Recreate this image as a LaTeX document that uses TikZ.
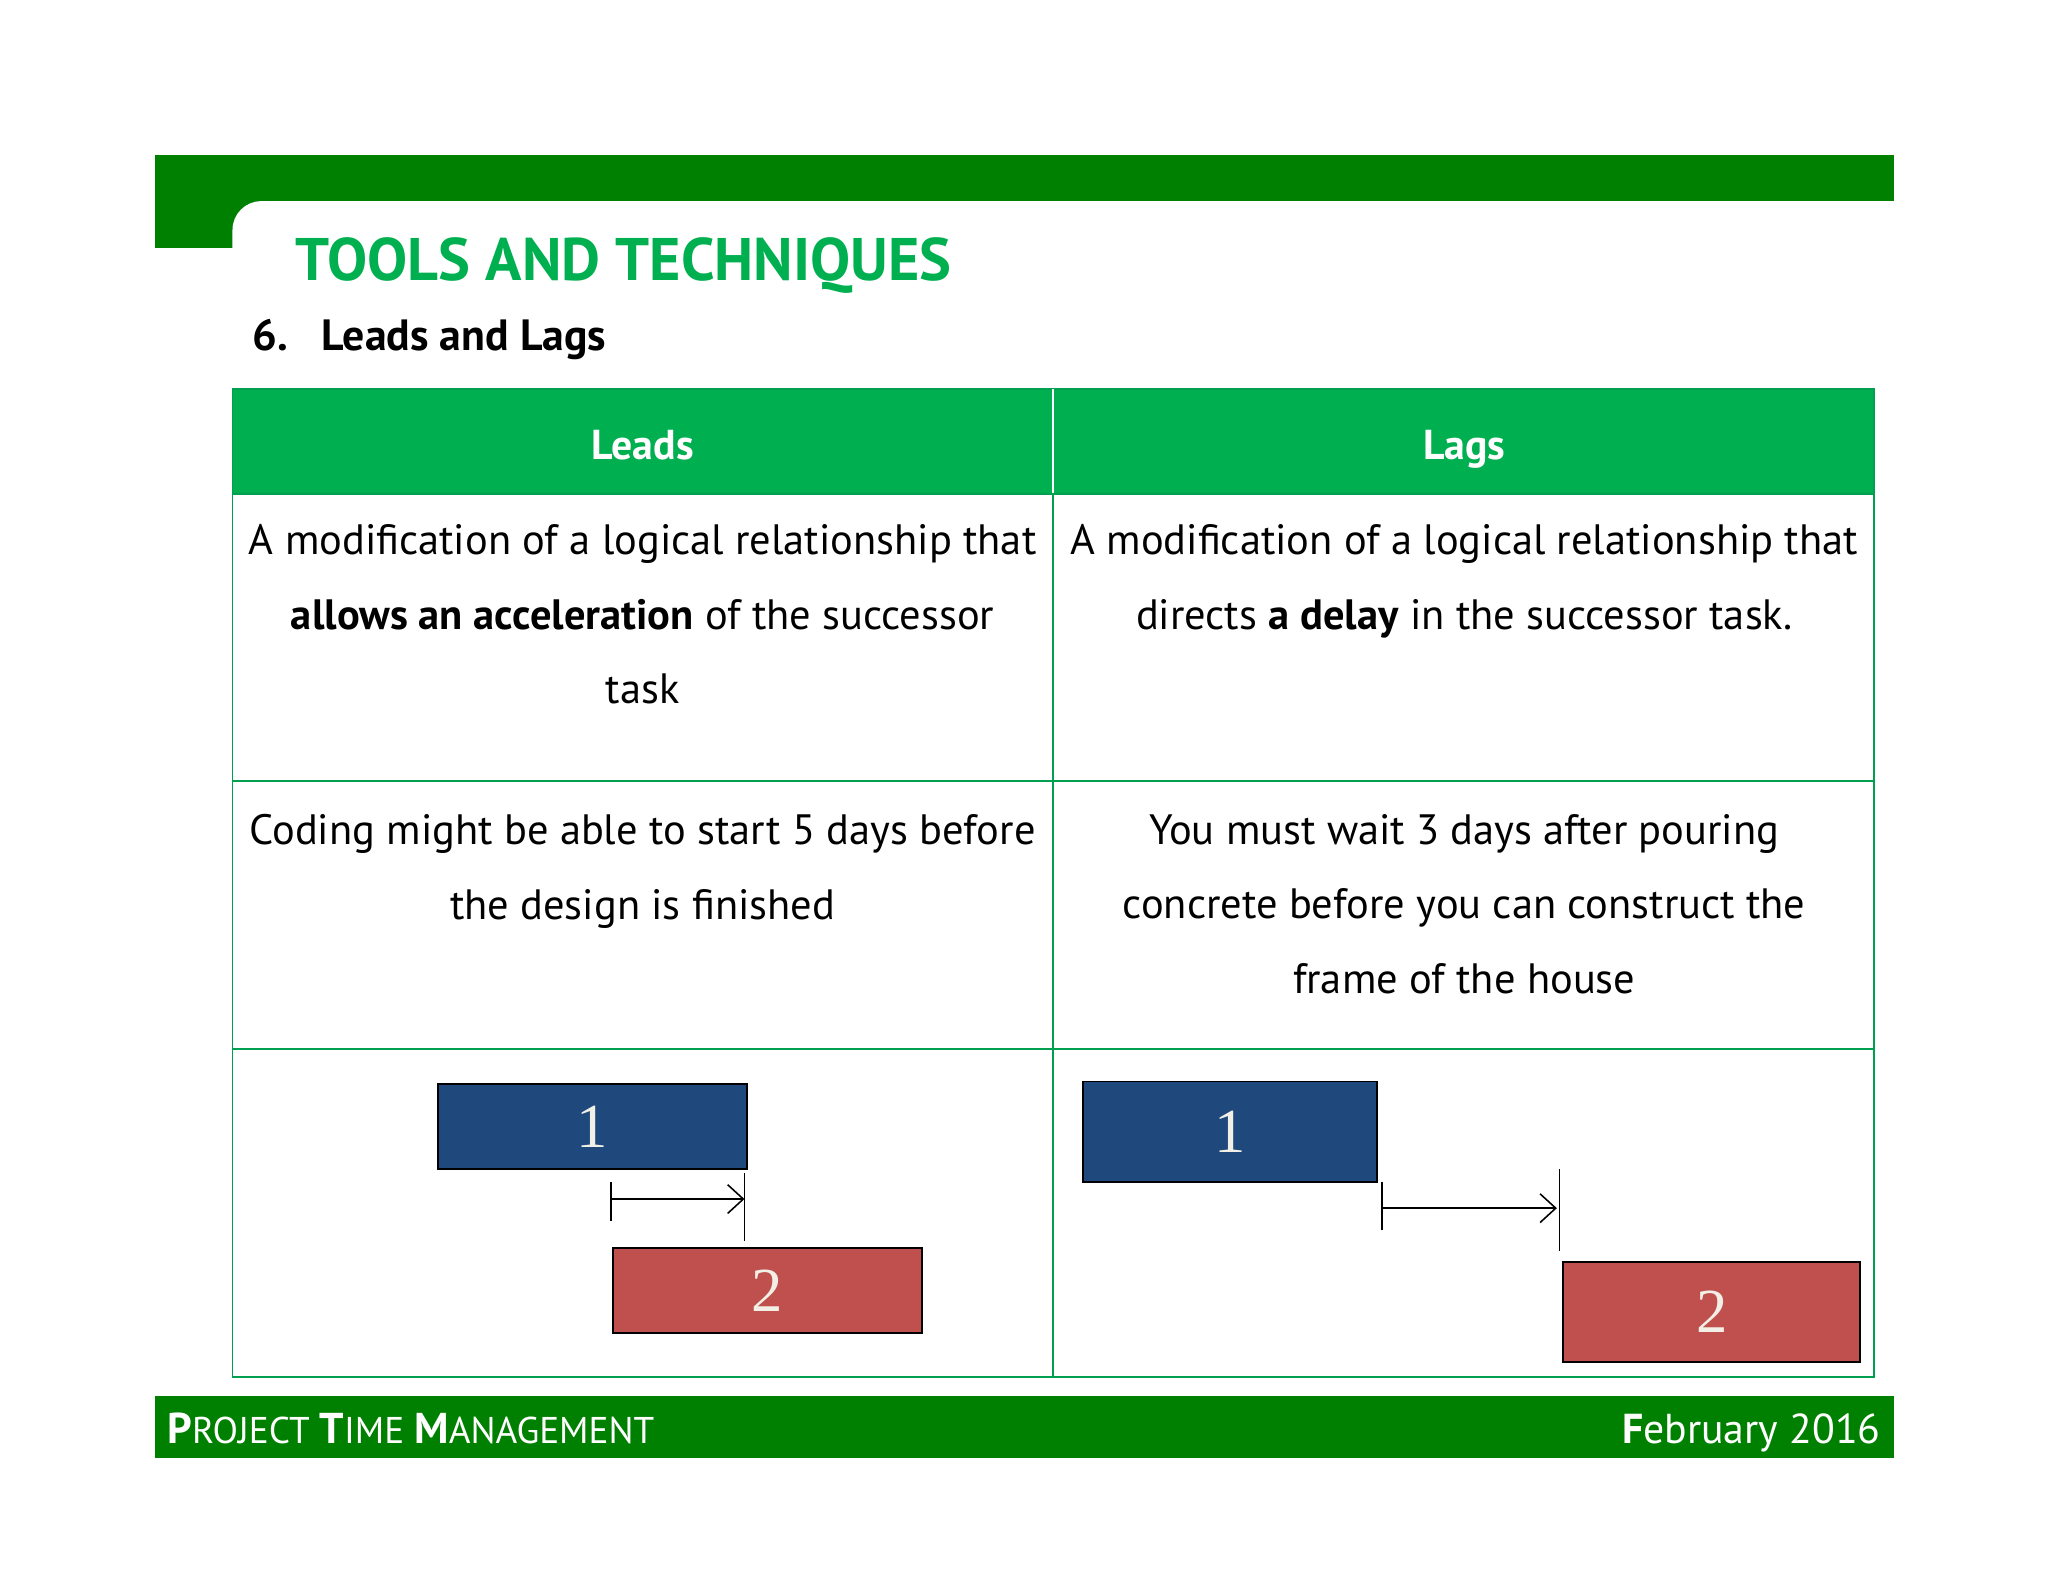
\documentclass[tikz,border=0pt]{standalone}
\usepackage{fontspec}
\setmainfont{PT Sans}
\newfontfamily\numfont{Liberation Serif}
\usetikzlibrary{arrows.meta}
\definecolor{dkgreen}{RGB}{0,128,0}
\definecolor{ltgreen}{RGB}{0,176,80}
\definecolor{tblgreen}{RGB}{0,160,80}
\definecolor{boxblue}{RGB}{31,73,125}
\definecolor{boxred}{RGB}{192,80,77}
\definecolor{cream}{RGB}{242,240,230}
\tikzset{
  body/.style={font=\fontsize{32.5}{57}\selectfont, align=center, anchor=north},
  hdr/.style={font=\fontsize{32}{36}\selectfont\bfseries, text=white, anchor=base, inner sep=0pt},
  task/.style={draw=black, line width=1.5pt, minimum height=65pt, minimum width=237pt, inner sep=0pt, font=\numfont\fontsize{48}{48}\selectfont, text=cream},
  link/.style={line width=1.2pt},
}
\begin{document}
\begin{tikzpicture}[x=1pt,y=-1pt]
\useasboundingbox (0,0) rectangle (1568,1211);
\fill[white] (0,0) rectangle (1568,1211);
% header bars
\fill[dkgreen] (119,119) rectangle (1450,154);
\fill[dkgreen] (119,119) rectangle (210,190);
\fill[white, rounded corners=22pt] (178,260) -- (178,154) -- (1470,154) -- (1470,260) -- cycle;
\node[anchor=base west, font=\fontsize{46}{50}\selectfont\bfseries, text=ltgreen, inner sep=0pt] (title) at (226,215) {TOOLS AND TECHNIQUES};
\node[anchor=base west, font=\fontsize{33.5}{38}\selectfont\bfseries, inner sep=0pt] (sub) at (193,268) {6.\hspace{26pt}Leads and Lags};
% table
\fill[ltgreen] (178,298) rectangle (1435,378);
\draw[tblgreen, line width=1.5pt] (178,298) rectangle (1435,1054);
\draw[white, line width=1.5pt] (806,298) -- (806,378);
\draw[tblgreen, line width=1.5pt] (806,378) -- (806,1054);
\draw[tblgreen, line width=1.5pt] (178,378) -- (1435,378);
\draw[tblgreen, line width=1.5pt] (178,598) -- (1435,598);
\draw[tblgreen, line width=1.5pt] (178,803) -- (1435,803);
\node[hdr] (hl) at (492,352) {Leads};
\node[hdr] (hr) at (1121,352) {Lags};
\node[body] (r1l) at (492,398) {A modification of a logical relationship that\\\textbf{allows an acceleration} of the successor\\task};
\node[body] (r1r) at (1121,398) {A modification of a logical relationship that\\directs \textbf{a delay} in the successor task.};
\node[body] (r2l) at (492,620) {Coding might be able to start 5 days before\\the design is finished};
\node[body] (r2r) at (1121,620) {You must wait 3 days after pouring\\concrete before you can construct the\\frame of the house};
% left diagram
\node[task, fill=boxblue] (a1) at (453.5,862.5) {1};
\node[task, fill=boxred] (a2) at (587.5,988) {2};
\coordinate (la) at (468,918);
\coordinate (lb) at (570,918);
\draw[link] (468,905) -- (468,935);
\draw[link] (570,898) -- (570,950);
\draw[link, -{Straight Barb[length=12pt,width=22pt]}] (la) -- (lb);
% right diagram
\node[task, fill=boxblue, minimum width=225pt, minimum height=77pt] (b1) at (941.5,866.5) {1};
\node[task, fill=boxred, minimum width=227pt, minimum height=77pt] (b2) at (1310.5,1004.5) {2};
\coordinate (ra) at (1058,925);
\coordinate (rb) at (1192,925);
\draw[link] (1058,905) -- (1058,942);
\draw[link] (1194,895) -- (1194,958);
\draw[link, -{Straight Barb[length=12pt,width=22pt]}] (ra) -- (rb);
% footer
\fill[dkgreen] (119,1069) rectangle (1450,1116);
\node[anchor=base west, text=white, inner sep=0pt] (ft) at (128,1105) {\fontsize{33}{36}\selectfont\bfseries P\fontsize{28.5}{30}\selectfont\mdseries ROJECT \fontsize{33}{36}\selectfont\bfseries T\fontsize{28.5}{30}\selectfont\mdseries IME \fontsize{33}{36}\selectfont\bfseries M\fontsize{28.5}{30}\selectfont\mdseries ANAGEMENT};
\node[anchor=base east, text=white, inner sep=0pt] (fd) at (1440,1105) {\fontsize{32}{36}\selectfont\bfseries F\mdseries ebruary 2016};
\end{tikzpicture}
\end{document}
